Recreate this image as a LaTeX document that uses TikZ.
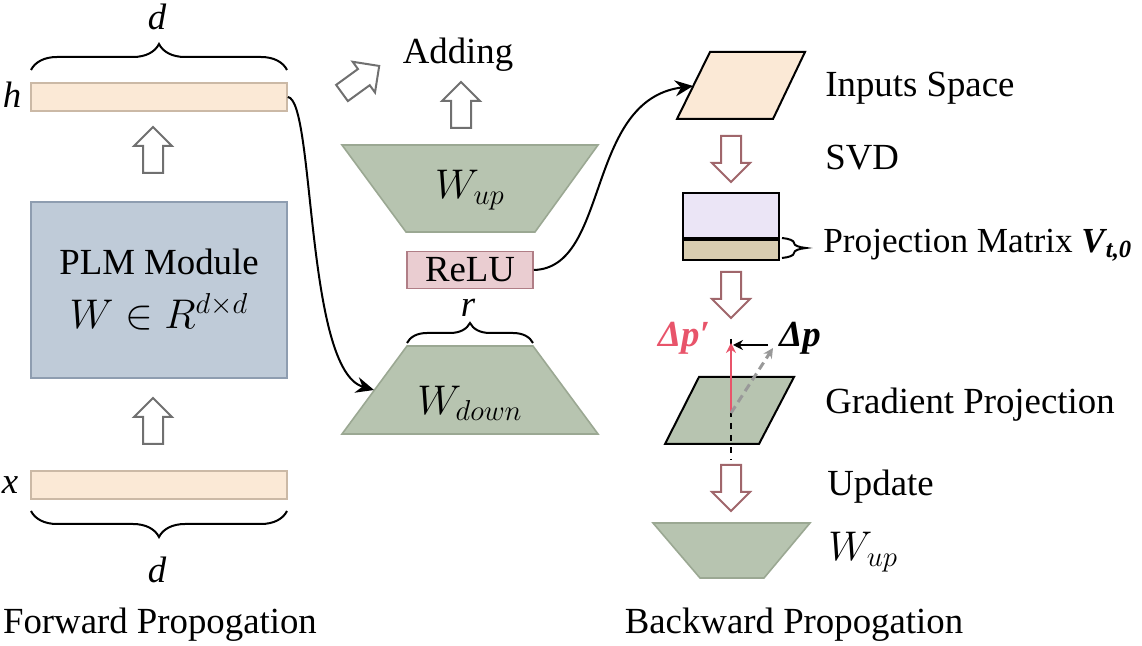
\documentclass[tikz,border=0pt]{standalone}
\usepackage{fontspec}
\setmainfont{Liberation Serif}
\usetikzlibrary{arrows.meta,decorations.pathreplacing}
\definecolor{peachfill}{HTML}{FBE9D6}
\definecolor{peachline}{HTML}{CBB9A6}
\definecolor{plmfill}{HTML}{BFCBD8}
\definecolor{plmline}{HTML}{8E9DB0}
\definecolor{sagefill}{HTML}{B7C4B0}
\definecolor{sageline}{HTML}{9BA893}
\definecolor{relufill}{HTML}{EACDD1}
\definecolor{reluline}{HTML}{B07E86}
\definecolor{lavfill}{HTML}{EBE5F6}
\definecolor{tanfill}{HTML}{D8CDB1}
\definecolor{projred}{HTML}{E8546A}
\definecolor{svdarrow}{HTML}{A0666B}
\definecolor{fwdarrow}{HTML}{707070}

\begin{document}
\begin{tikzpicture}[x=0.5pt,y=-0.5pt,
  font=\fontsize{18.4}{22}\selectfont,
  bar/.style={draw=peachline,fill=peachfill,line width=0.8pt,minimum width=128pt,minimum height=14pt,inner sep=0pt},
  lbl/.style={anchor=west,inner sep=0pt},
  mth/.style={font=\fontsize{21}{24}\selectfont},
  flow/.style={line width=1pt,-{Stealth[length=9pt,width=8pt,inset=3pt]}},
  brc/.style={decorate,decoration={brace,amplitude=#1},line width=1pt},
  sage/.style={draw=sageline,fill=sagefill,line width=0.8pt},
  pics/fatarrow/.style={code={
    \draw[line width=1pt,fill=white,draw=#1] (-10,0) -- (-10,-27) -- (-19,-27) -- (0,-46) -- (19,-27) -- (10,-27) -- (10,0) -- cycle;}}
]
\useasboundingbox (0,0) rectangle (1142,646);

% forward propagation
\node[bar] (hbar) at (159,97) {};
\node[bar] (xbar) at (159,485) {};
\node (hlab) at (12,95) {\textit{h}};
\node (xlab) at (10,485) {\textit{x}};
\node[draw=plmline,fill=plmfill,line width=0.8pt,minimum width=128pt,minimum height=88pt,align=center] (plm) at (159,290) {PLM Module\\[5pt]{\fontsize{21}{22}\selectfont$W\in R^{d\times d}$}};
\pic at (153,173) {fatarrow=fwdarrow};
\pic at (153,444) {fatarrow=fwdarrow};
\draw[brc=13pt] (31,70) -- (287,70);
\node (dtop) at (157,17) {\textit{d}};
\draw[brc=13pt] (287,511) -- (31,511);
\node (dbot) at (157,570) {\textit{d}};
\node (fwd) at (160,625) {Forward Propogation};

% adapter
\draw[sage] (342,145) -- (598,145) -- (535,232) -- (406,232) -- cycle;
\node[mth] (wup) at (470,190) {$W_{up}$};
\node[draw=reluline,fill=relufill,line width=0.8pt,minimum width=63pt,minimum height=18.5pt,inner sep=0pt] (relu) at (470,270) {ReLU};
\draw[sage] (407,346) -- (533,346) -- (598,434) -- (342,434) -- cycle;
\node[mth] (wdown) at (470,403) {$W_{down}$};
\coordinate (wdownin) at (374,390);
\draw[brc=10pt] (407,343) -- (533,343);
\node[inner sep=0pt] (rlab) at (468,308) {\textit{r}};
\node (adding) at (458,55) {Adding};
\pic at (461,128) {fatarrow=fwdarrow};
\pic[rotate=-54] at (342,93) {fatarrow=fwdarrow};

% backward propagation
\draw[line width=1pt,fill=peachfill] (710,52) -- (805,52) -- (773,119) -- (677,119) -- cycle;
\coordinate (inleft) at (693,86);
\node[lbl] (inputs) at (825,88) {Inputs Space};
\pic[rotate=180] at (731,136) {fatarrow=svdarrow};
\node[lbl] (svd) at (825,158) {SVD};
\node[draw,line width=1pt,fill=lavfill,minimum width=48pt,minimum height=22.5pt,inner sep=0pt] (vtop) at (731,215.5) {};
\node[draw,line width=1pt,fill=tanfill,minimum width=48pt,minimum height=10pt,inner sep=0pt,anchor=north] (vbot) at (vtop.south) {};
\draw[brc=12pt] (782,238) -- (782,258);
\node[lbl,font=\fontsize{17.6}{22}\selectfont] (proj) at (823,245) {Projection Matrix {\bfseries\itshape V\kern0.5pt\textsubscript{t,0}}};
\pic[rotate=180] at (731,272) {fatarrow=svdarrow};
\draw[line width=1pt,fill=sagefill] (699,377) -- (794,377) -- (759,444) -- (665,444) -- cycle;
\coordinate (porig) at (731,413);
\coordinate (ptip) at (731,343);
\coordinate (gtip) at (773,348);
\coordinate (gstart) at (768,345);
\coordinate (gend) at (733,345);
\draw[dashed,line width=0.6pt] (731,339) -- (731,460);
\draw[projred,line width=1.2pt,-{Stealth[length=5pt,width=5pt]}] (porig) -- (ptip);
\draw[gray!80,line width=1.5pt,dash pattern=on 4pt off 2.5pt,-{Stealth[length=5pt,width=5pt]}] (porig) -- (gtip);
\draw[line width=0.6pt,-{Stealth[length=5pt,width=5pt]}] (gstart) -- (gend);
\node[projred] (dpplab) at (684,338) {\bfseries\itshape Δp′};
\node (dplab) at (800,338) {\bfseries\itshape Δp};
\node[lbl] (grad) at (825,405) {Gradient Projection};
\pic[rotate=180] at (731,465) {fatarrow=svdarrow};
\node[lbl] (update) at (827,487) {Update};
\draw[sage] (653,523) -- (810,523) -- (764,578) -- (700,578) -- cycle;
\node[lbl,mth] (wup2) at (828,552) {$W_{up}$};
\node (bwd) at (794,625) {Backward Propogation};

\draw[flow] (hbar.east) .. controls (315,100) and (305,370) .. (wdownin);
\draw[flow] (relu.east) .. controls (610,268) and (585,100) .. (inleft);
\end{tikzpicture}
\end{document}
